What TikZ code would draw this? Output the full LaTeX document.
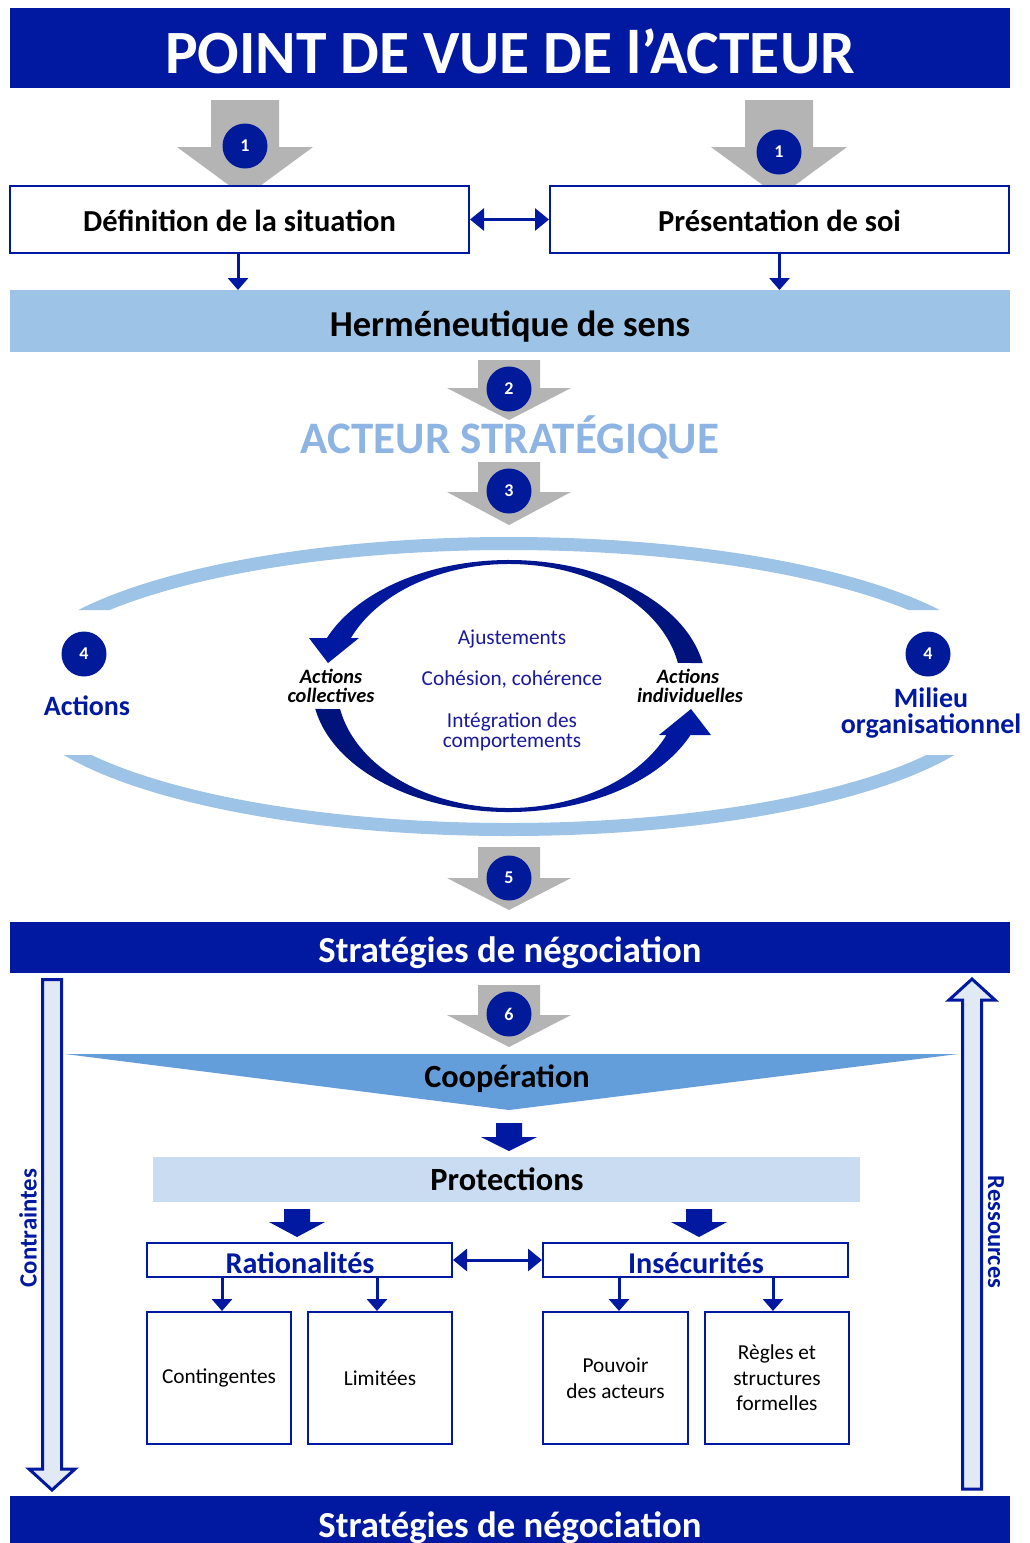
\documentclass[tikz,border=0pt]{standalone}
\usepackage{fontspec}
\setmainfont{Carlito}
\usetikzlibrary{arrows.meta,calc}
\definecolor{dblue}{HTML}{0019A0}
\definecolor{cblue}{HTML}{001A9A}
\definecolor{lblue}{HTML}{9DC3E6}
\definecolor{tblue}{HTML}{8DB4E2}
\definecolor{coop}{HTML}{639EDB}
\definecolor{prot}{HTML}{C9DCF1}
\definecolor{gray1}{HTML}{B4B4B4}
\definecolor{arrowfill}{HTML}{E1E9F4}
\definecolor{txtblue}{HTML}{1A1A9C}
\definecolor{cycA}{HTML}{0019A4}
\definecolor{cycB}{HTML}{00137A}
\tikzset{
  bar/.style={inner sep=0pt, outer sep=0pt},
  lbl/.style={inner sep=0pt, anchor=base},
  wbox/.style={draw=dblue, line width=2pt, fill=white, inner sep=0pt, align=center},
  num/.style={circle, fill=cblue, text=white, minimum size=45pt, inner sep=0pt, font=\bfseries\fontsize{18}{18}\selectfont},
  conn/.style={dblue, line width=3pt, -{Triangle[length=12pt,width=20pt]}},
  dconn/.style={dblue, line width=3pt, {Triangle[length=14pt,width=22pt]}-{Triangle[length=14pt,width=22pt]}},
  ring/.style={lblue, line width=13pt},
  vside/.style={draw=dblue, line width=3pt, fill=arrowfill, line join=miter},
}
\newcommand\fsz[1]{\fontsize{#1}{#1}\selectfont}
% gray arrow: x, ytop, yhead, ytip, shaft half width, head half width
\newcommand\grayarr[6]{%
  \fill[gray1] (#1-#5,#2) -- (#1+#5,#2) -- (#1+#5,#3) -- (#1+#6,#3) -- (#1,#4) -- (#1-#6,#3) -- (#1-#5,#3) -- cycle;}
% dark block arrow: x, ytop, yhead, ytip
\newcommand\blockarr[4]{%
  \fill[dblue] (#1-13,#2) -- (#1+13,#2) -- (#1+13,#3) -- (#1+28,#3) -- (#1,#4) -- (#1-28,#3) -- (#1-13,#3) -- cycle;}
\begin{document}
\begin{tikzpicture}[x=1pt,y=-1pt]
\useasboundingbox (0,0) rectangle (1029,1543);
\fill[white] (0,0) rectangle (1029,1543);

% title
\node[bar, fill=dblue, minimum width=1000pt, minimum height=80pt] (title) at (510,48) {};
\node[lbl, text=white, font=\bfseries\fsz{61.5}] (titlet) at (510,73) {POINT DE VUE DE l’ACTEUR};

% arrows 1
\grayarr{245}{100}{147}{197}{34}{68}
\grayarr{779}{100}{147}{197}{34}{68}

\node[wbox, minimum width=459pt, minimum height=67pt] (def) at (239.5,219.5) {};
\node[lbl, font=\bfseries\fsz{30.5}] (deft) at (239.5,231.5) {Définition de la situation};
\node[wbox, minimum width=459pt, minimum height=67pt] (pres) at (779.5,219.5) {};
\node[lbl, font=\bfseries\fsz{30.5}] (prest) at (779.5,231.5) {Présentation de soi};
\node[num] (n1a) at (245,146) {1};
\node[num] (n1b) at (779,152) {1};
\draw[dconn] (def.east) -- (pres.west);

\node[bar, fill=lblue, minimum width=1000pt, minimum height=62pt] (herm) at (510,321) {};
\node[lbl, font=\bfseries\fsz{36.5}] (hermt) at (510,336) {Herméneutique de sens};
\draw[conn] (def.south -| 238,0) -- (herm.north -| 238,0);
\draw[conn] (pres.south) -- (herm.north -| pres.south);

% arrow 2
\grayarr{509}{360}{388}{420}{31}{62}
\node[num] (n2) at (509,389) {2};
\node[lbl, font=\bfseries\fsz{45}, text=tblue] (acteur) at (510,453.5) {ACTEUR STRATÉGIQUE};
\grayarr{509}{462}{492}{525}{31}{62}
\node[num] (n3) at (509,491) {3};

% ring
\begin{scope}
\clip (0,0) rectangle (1029,610) (0,755) rectangle (1029,1543);
\draw[ring] (509,686.5) ellipse [x radius=492, y radius=143];
\end{scope}

% cycle arrows
\shade[left color=cycA, right color=cycB]
  (509,686) ++(-10.5:197 and 126) arc[start angle=-10.5, end angle=-157.6, x radius=197, y radius=126]
  -- (309,638) -- (328,663) -- (359,638)
  -- ($(509,686)+(-156.9:172 and 122)$) arc[start angle=-156.9, end angle=-10.9, x radius=172, y radius=122] -- cycle;
\shade[left color=cycB, right color=cycA]
  (509,686) ++(169.5:197 and 126) arc[start angle=169.5, end angle=22.9, x radius=197, y radius=126]
  -- (711,735) -- (691,709) -- (659,735)
  -- ($(509,686)+(23.7:172 and 122)$) arc[start angle=23.7, end angle=169.1, x radius=172, y radius=122] -- cycle;

\node[num] (n4a) at (84,654) {4};
\node[num] (n4b) at (928,654) {4};
\node[lbl, font=\bfseries\fsz{28}, text=dblue] (actions) at (87,715) {Actions};
\node[lbl, font=\bfseries\fsz{28}, text=dblue] (milieu) at (931,707) {Milieu};
\node[lbl, font=\bfseries\fsz{28}, text=dblue] (orga) at (931,733) {organisationnel};

\node[lbl, font=\bfseries\itshape\fsz{20.4}] (acoll1) at (331,683.5) {Actions};
\node[lbl, font=\bfseries\itshape\fsz{20.4}] (acoll2) at (331,702.5) {collectives};
\node[lbl, font=\bfseries\itshape\fsz{20.4}] (aind1) at (688,683.5) {Actions};
\node[lbl, font=\bfseries\itshape\fsz{20.4}] (aind2) at (690,702.5) {individuelles};

\node[lbl, font=\fsz{21.3}, text=txtblue] (aju) at (512,644) {Ajustements};
\node[lbl, font=\fsz{21.3}, text=txtblue] (coh) at (512,685) {Cohésion, cohérence};
\node[lbl, font=\fsz{21.3}, text=txtblue] (integ1) at (512,727) {Intégration des};
\node[lbl, font=\fsz{21.3}, text=txtblue] (integ2) at (512,747) {comportements};

% arrow 5
\grayarr{509}{847}{878}{910}{31}{62}
\node[num] (n5) at (509,878) {5};

\node[bar, fill=dblue, minimum width=1000pt, minimum height=51pt] (strat1) at (510,947.5) {};
\node[lbl, text=white, font=\bfseries\fsz{36.7}] (strat1t) at (510,962) {Stratégies de négociation};

% arrow 6
\grayarr{509}{985}{1015}{1047}{31}{62}
\node[num] (n6) at (509,1014) {6};

% cooperation
\fill[coop] (65,1054) -- (958,1054) -- (509,1110) -- cycle;
\node[lbl, font=\bfseries\fsz{32.3}] (coopt) at (507,1087) {Coopération};

\blockarr{509}{1123}{1137}{1151}
\node[bar, fill=prot, minimum width=707pt, minimum height=45pt] (prot) at (506.5,1179.5) {};
\node[lbl, font=\bfseries\fsz{32.4}] (prott) at (507,1190.5) {Protections};

\blockarr{297}{1209}{1222}{1237}
\blockarr{699}{1209}{1222}{1237}

\node[wbox, minimum width=305pt, minimum height=34pt] (rat) at (299.5,1260) {};
\node[lbl, text=dblue, font=\bfseries\fsz{30.2}] (ratt) at (300,1273) {Rationalités};
\node[wbox, minimum width=305pt, minimum height=34pt] (ins) at (695.5,1260) {};
\node[lbl, text=dblue, font=\bfseries\fsz{30.2}] (inst) at (696,1273) {Insécurités};
\draw[dconn] (rat.east) -- (ins.west);

\node[wbox, minimum width=144pt, minimum height=132pt, font=\fontsize{21.3}{25.5}\selectfont] (cont) at (219,1378) {Contingentes};
\node[wbox, minimum width=144pt, minimum height=132pt, font=\fontsize{21.3}{25.5}\selectfont] (lim) at (380,1378) {Limitées};
\node[wbox, minimum width=145pt, minimum height=132pt, font=\fontsize{21.3}{25.5}\selectfont] (pouv) at (615.5,1378) {Pouvoir\\des acteurs};
\node[wbox, minimum width=144pt, minimum height=132pt, font=\fontsize{21.3}{25.5}\selectfont] (regl) at (777,1378) {Règles et\\structures\\formelles};

\draw[conn] (rat.south -| 222,0) -- (cont.north -| 222,0);
\draw[conn] (rat.south -| 377,0) -- (lim.north -| 377,0);
\draw[conn] (ins.south -| 619,0) -- (pouv.north -| 619,0);
\draw[conn] (ins.south -| 773,0) -- (regl.north -| 773,0);

% side arrows
\draw[vside] (42.5,979.5) -- (61.5,979.5) -- (61.5,1469) -- (75,1469) -- (52,1490) -- (29,1469) -- (42.5,1469) -- cycle;
\node[rotate=90, font=\bfseries\fsz{24.8}, text=dblue, inner sep=0pt] (contr) at (28,1228) {Contraintes};
\draw[vside] (962.5,1489) -- (981.5,1489) -- (981.5,1000) -- (995,1000) -- (972,979) -- (949,1000) -- (962.5,1000) -- cycle;
\node[rotate=-90, font=\bfseries\fsz{24.5}, text=dblue, inner sep=0pt] (ress) at (996,1232) {Ressources};

% bottom bar
\fill[dblue] (10,1496) rectangle (1010,1543);
\node[lbl, font=\bfseries\fsz{36.7}, text=white] (strat2) at (510,1537) {Stratégies de négociation};
\end{tikzpicture}
\end{document}
